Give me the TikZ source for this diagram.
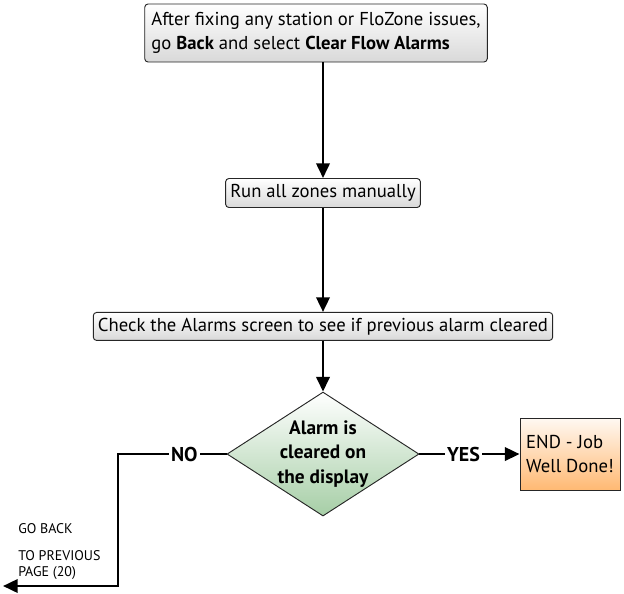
\documentclass[tikz,border=0pt]{standalone}
\usepackage{fontspec}
\setmainfont{PT Sans}
\usetikzlibrary{shapes.geometric,arrows.meta}
\usetikzlibrary{positioning}

\begin{document}
\begin{tikzpicture}[x=0.75pt, y=-0.75pt,
stepnode/.style={rectangle, draw=black!85, line width=0.7pt, rounded corners=2.5pt,
top color=white, bottom color=black!15, inner xsep=3.5pt, inner ysep=0pt,
font=\fontsize{14}{18}\selectfont, align=left,
},
decnode/.style={diamond, aspect=1.55, draw=black!85, line width=0.7pt,
top color=white, bottom color=green!45!black!35!white, minimum width=144pt, minimum height=93pt,
inner sep=-3pt, font=\fontsize{14.5}{18.5}\selectfont\bfseries, align=center,
},
endnode/.style={rectangle, draw=black!85, line width=0.7pt,
top color=orange!5, bottom color=orange!55, minimum width=75pt, minimum height=54pt,
font=\fontsize{14}{18}\selectfont, align=left, inner xsep=2pt,
},
answer/.style={font=\fontsize{15}{18}\selectfont\bfseries, inner sep=1.5pt},
note/.style={font=\fontsize{10.5}{12}\selectfont, align=left, inner sep=0pt, anchor=west},
flow/.style={line width=1.9pt, -{Triangle[length=11pt,width=10pt]}},
]
\useasboundingbox (0,0) rectangle (624,593);
%Nodes
\node[stepnode, minimum height=43.5pt, inner xsep=5pt] (fix) at (316,33) {After fixing any station or FloZone issues,\\go \textbf{Back} and select \textbf{Clear Flow Alarms}};
\node[stepnode, minimum height=21.75pt] (run)   at (323,193)             {Run all zones manually};
\node[stepnode, minimum height=21pt]    (check) [below=78pt of run]   {Check the Alarms screen to see if previous alarm cleared};
\node[decnode]   (alarm) [below=38pt of check] {Alarm is\\cleared on\\the display};
\node[answer]    (no)    [left=20pt of alarm]  {NO};
\node[answer]    (yes)   [right=19pt of alarm] {YES};
\node[endnode]   (done)  [right=28pt of yes]   {END - Job\\Well Done!};
\node[note]      (goback)                      at (18,529) {GO BACK};
\node[note]      (page)                        at (18,565) {TO PREVIOUS\\PAGE (20)};
\coordinate (bend) at (118,586);
\coordinate (back) at (3,586);
%Lines
\draw[flow] (fix.south -| run.north) -- (run.north);
\draw[flow] (run.south) -- (check.north);
\draw[flow] (check.south) -- (alarm.north);
\draw[line width=1.9pt] (alarm.west) -- (no.east);
\draw[flow] (no.west) -- (no.west -| bend) -- (bend) -- (back);
\draw[line width=1.9pt] (alarm.east) -- (yes.west);
\draw[flow] (yes.east) -- (done.west);
\end{tikzpicture}
\end{document}
